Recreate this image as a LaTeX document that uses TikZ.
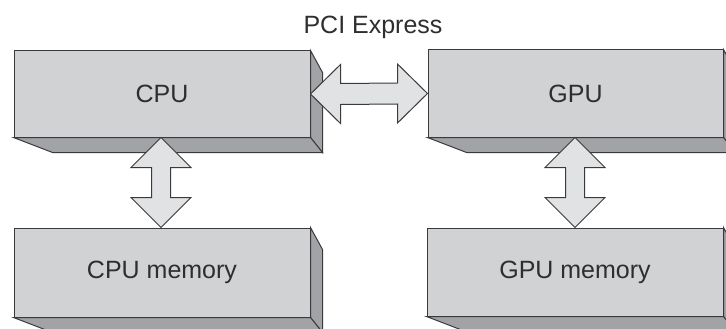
\documentclass[tikz,border=0pt]{standalone}
\usepackage{fontspec}
\setmainfont{Liberation Sans}
\usetikzlibrary{calc}

\definecolor{facefront}{HTML}{D1D2D4}
\definecolor{faceside}{HTML}{A2A3A6}
\definecolor{arrowfill}{HTML}{E1E2E4}
\definecolor{edge}{HTML}{3A3A3C}
\definecolor{ink}{HTML}{2E2E30}

\tikzset{
  frontface/.style={draw=edge, fill=facefront, line width=1pt, rectangle,
    inner sep=0pt, text=ink, font=\fontsize{25}{30}\selectfont},
  sideface/.style={draw=edge, fill=faceside, line width=1pt, line join=miter},
  blockarrow/.style={draw=edge, fill=arrowfill, line width=1pt, line join=miter},
  caption/.style={text=ink, font=\fontsize{25}{30}\selectfont, inner sep=0pt}
}

% side and bottom faces of an extruded box
\newcommand{\boxdepth}[1]{%
  \path[sideface] (#1.north east) -- ++(12,22) -- ($(#1.south east)+(12,15)$)
    -- (#1.south east) -- cycle;
  \path[sideface] (#1.south west) -- ++(39,15) -- ($(#1.south east)+(12,15)$)
    -- (#1.south east) -- cycle;
}

\begin{document}
\begin{tikzpicture}[x=1pt, y=-1pt]
  \useasboundingbox (0,0) rectangle (726,329);

  % front faces
  \node[frontface, minimum width=296pt, minimum height=86pt] (cpu) at (162,94) {CPU};
  \node[frontface, minimum width=295pt, minimum height=87pt] (gpu) at (575.5,93.5) {GPU};
  \node[frontface, minimum width=296pt, minimum height=89pt] (cpumem) at (162,272.5) {CPU memory};
  \node[frontface, minimum width=296pt, minimum height=88pt] (gpumem) at (575,272) {GPU memory};

  \boxdepth{cpu}
  \boxdepth{gpu}
  \boxdepth{cpumem}
  \boxdepth{gpumem}

  \node[caption] (pcie) at (373,27) {PCI Express};

  % CPU <-> CPU memory
  \path[blockarrow]
    ($(cpu.south)+(-1,0)$) coordinate (t1)
    ($(cpumem.north)+(-1,0)$) coordinate (b1)
    (t1) -- ($(t1)+(30,30)$) -- ($(t1)+(9.5,30)$) -- ($(b1)+(9.5,-30)$)
    -- ($(b1)+(30,-30)$) -- (b1) -- ($(b1)+(-30,-30)$) -- ($(b1)+(-9.5,-30)$)
    -- ($(t1)+(-9.5,30)$) -- ($(t1)+(-30,30)$) -- cycle;

  % GPU <-> GPU memory
  \path[blockarrow]
    ($(gpu.south)+(-0.5,0)$) coordinate (t2)
    (gpumem.north) coordinate (b2)
    (t2) -- ($(t2)+(30,30)$) -- ($(t2)+(9.5,30)$) -- ($(b2)+(9.5,-30)$)
    -- ($(b2)+(30,-30)$) -- (b2) -- ($(b2)+(-30,-30)$) -- ($(b2)+(-9.5,-30)$)
    -- ($(t2)+(-9.5,30)$) -- ($(t2)+(-30,30)$) -- cycle;

  % CPU <-> GPU over PCI Express
  \path[blockarrow]
    (cpu.east) coordinate (l3)
    (gpu.west) coordinate (r3)
    (l3) -- ($(l3)+(30,-29.5)$) -- ($(l3)+(30,-10.5)$) -- ($(r3)+(-30,-10.5)$)
    -- ($(r3)+(-30,-29.5)$) -- (r3) -- ($(r3)+(-30,29.5)$) -- ($(r3)+(-30,10.5)$)
    -- ($(l3)+(30,10.5)$) -- ($(l3)+(30,29.5)$) -- cycle;
\end{tikzpicture}
\end{document}
